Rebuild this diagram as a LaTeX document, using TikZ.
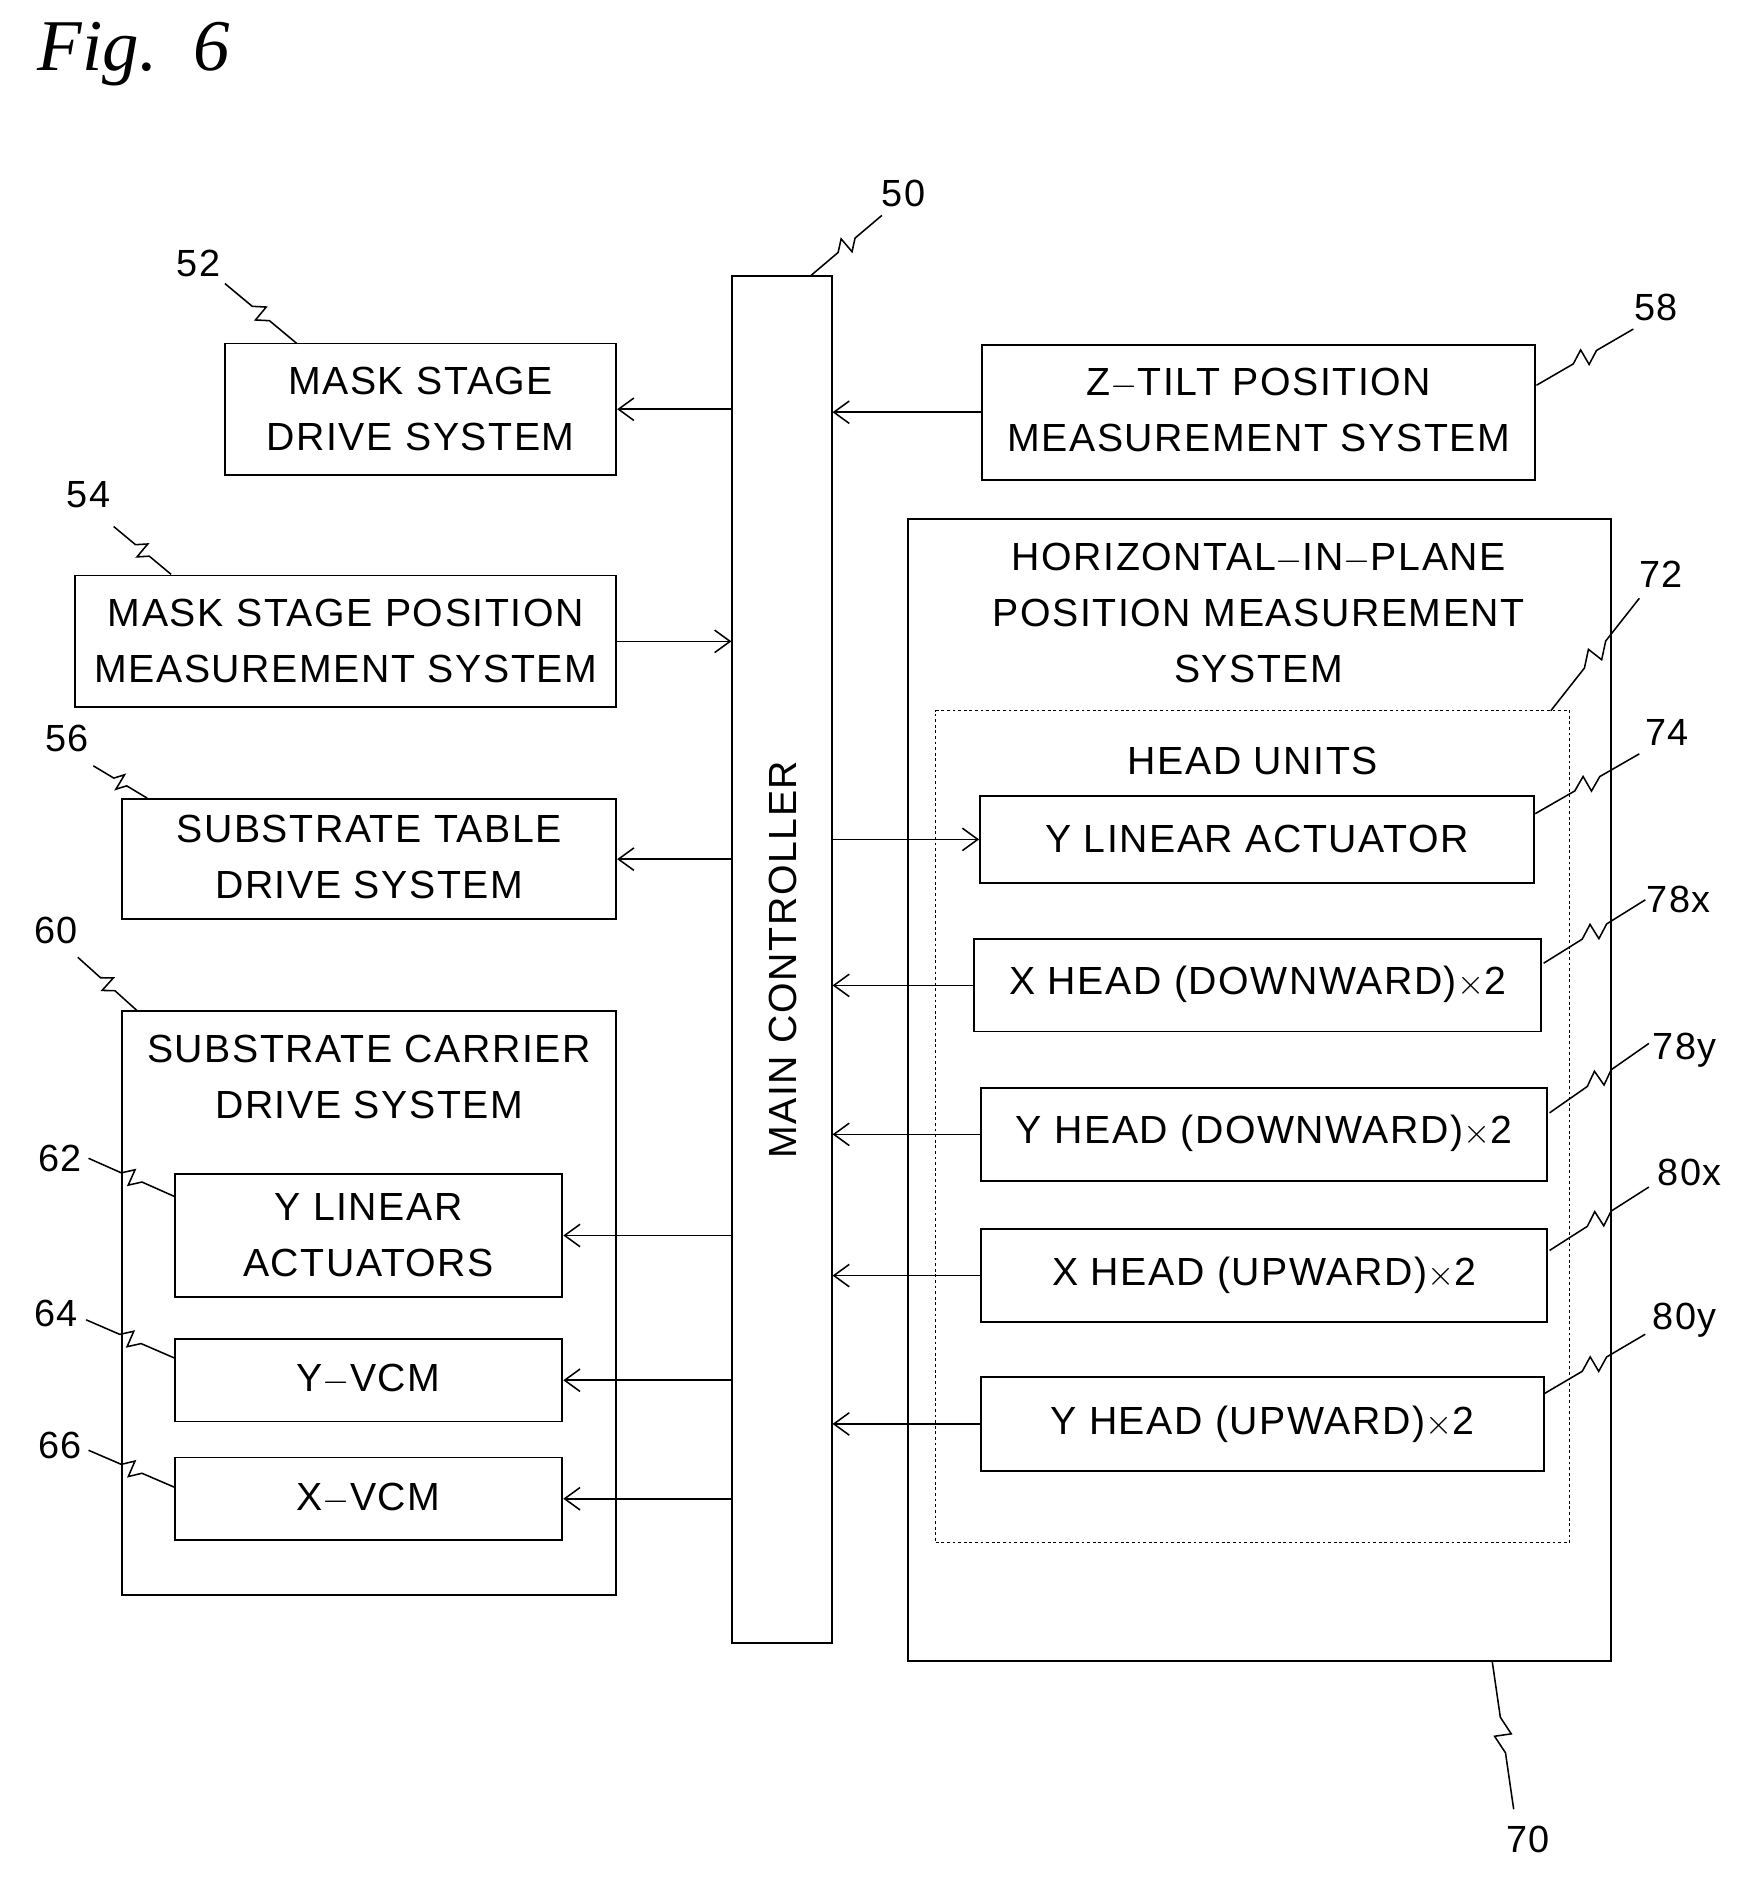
\documentclass[tikz,border=0pt]{standalone}
\usepackage{fontspec}
\setmainfont[LetterSpace=4]{Liberation Sans}
\newfontfamily\figfont{Liberation Serif}
\usetikzlibrary{arrows.meta,calc}
\begin{document}
\begin{tikzpicture}[x=0.03cm,y=-0.03cm,
 box/.style={draw,line width=1.3pt},
 txt/.style={font=\fontsize{28}{40}\selectfont,align=center},
 lab/.style={font=\fontsize{27}{32}\selectfont},
 arr/.style={line width=1.1pt,-{Straight Barb[length=11pt,width=16pt,line width=1.1pt]}},
 lead/.style={line width=1.1pt}]
\useasboundingbox (0,0) rectangle (1466,1577);
\newcommand\sq[2]{\path coordinate (sqa) at #1 coordinate (sqb) at #2;
 \draw[lead] (sqa) -- ($(sqa)!0.38!(sqb)$) -- ($($(sqa)!0.5!(sqb)$)!6pt!90:(sqb)$) -- ($($(sqa)!0.5!(sqb)$)!6pt!-90:(sqb)$) -- ($(sqa)!0.62!(sqb)$) -- (sqb);}
\node[font=\fontsize{52}{52}\selectfont\figfont\itshape] (fig) at (112,45) {Fig.\ \ 6};
% main controller
\node[box,minimum width=83*0.03cm,minimum height=1142*0.03cm] (mc) at (653.5,802) {};
\node[txt,rotate=90] (mct) at (654,802) {MAIN CONTROLLER};
% left boxes
\node[box,minimum width=327*0.03cm,minimum height=110*0.03cm] (b52) at (351.5,342) {};
\node[txt] (t52) at (351.5,342) {MASK STAGE\\DRIVE SYSTEM};
\node[box,minimum width=452*0.03cm,minimum height=110*0.03cm] (b54) at (289,536) {};
\node[txt] (t54) at (289,536) {MASK STAGE POSITION\\MEASUREMENT SYSTEM};
\node[box,minimum width=413*0.03cm,minimum height=100*0.03cm] (b56) at (308.5,718) {};
\node[txt] (t56) at (308.5,716) {SUBSTRATE TABLE\\DRIVE SYSTEM};
\node[box,minimum width=413*0.03cm,minimum height=488*0.03cm] (b60) at (308.5,1089) {};
\node[txt] (t60) at (308.5,900) {SUBSTRATE CARRIER\\DRIVE SYSTEM};
\node[box,minimum width=324*0.03cm,minimum height=103*0.03cm] (b62) at (308,1032.5) {};
\node[txt] (t62) at (308,1032) {Y LINEAR\\ACTUATORS};
\node[box,minimum width=324*0.03cm,minimum height=69*0.03cm] (b64) at (308,1153.5) {};
\node[txt] (t64) at (308,1153) {Y$-$VCM};
\node[box,minimum width=324*0.03cm,minimum height=69*0.03cm] (b66) at (308,1252.5) {};
\node[txt] (t66) at (308,1252) {X$-$VCM};
% right
\node[box,minimum width=462*0.03cm,minimum height=113*0.03cm] (b58) at (1052,344.5) {};
\node[txt] (t58) at (1052,343) {Z$-$TILT POSITION\\MEASUREMENT SYSTEM};
\node[box,minimum width=587*0.03cm,minimum height=954*0.03cm] (b70) at (1052.5,911) {};
\node[txt] (t70) at (1052,512) {HORIZONTAL$-$IN$-$PLANE\\POSITION MEASUREMENT\\SYSTEM};
\node[draw,line width=0.8pt,dash pattern=on 2pt off 2pt,minimum width=530*0.03cm,minimum height=695*0.03cm] (b72) at (1047,941.5) {};
\node[txt] (t72) at (1047,636) {HEAD UNITS};
\node[box,minimum width=463*0.03cm,minimum height=73*0.03cm] (b74) at (1050.5,701.5) {};
\node[txt] (t74) at (1050.5,701) {Y LINEAR ACTUATOR};
\node[box,minimum width=474*0.03cm,minimum height=77*0.03cm] (b78x) at (1051,823.5) {};
\node[txt] (t78x) at (1051,823) {X HEAD (DOWNWARD)$\times$2};
\node[box,minimum width=473*0.03cm,minimum height=78*0.03cm] (b78y) at (1056.5,948) {};
\node[txt] (t78y) at (1056.5,947) {Y HEAD (DOWNWARD)$\times$2};
\node[box,minimum width=473*0.03cm,minimum height=78*0.03cm] (b80x) at (1056.5,1066) {};
\node[txt] (t80x) at (1056.5,1066) {X HEAD (UPWARD)$\times$2};
\node[box,minimum width=470*0.03cm,minimum height=78*0.03cm] (b80y) at (1055,1190) {};
\node[txt] (t80y) at (1055,1190) {Y HEAD (UPWARD)$\times$2};
% arrows
\draw[arr] (mc.west|-b52) -- (b52.east);
\draw[arr] (b54.east) -- (mc.west|-b54);
\draw[arr] (mc.west|-b56) -- (b56.east);
\draw[arr] (mc.west|-b62) -- (b62.east);
\draw[arr] (mc.west|-b64) -- (b64.east);
\draw[arr] (mc.west|-b66) -- (b66.east);
\draw[arr] (b58.west) -- (mc.east|-b58);
\draw[arr] (mc.east|-b74) -- (b74.west);
\draw[arr] (b78x.west) -- (mc.east|-b78x);
\draw[arr] (b78y.west) -- (mc.east|-b78y);
\draw[arr] (b80x.west) -- (mc.east|-b80x);
\draw[arr] (b80y.west) -- (mc.east|-b80y);
% labels
\node[lab] (l50) at (755,162) {50}; \sq{(678,230)}{(737,180)}
\node[lab] (l52) at (166,220) {52}; \sq{(188,237)}{(248,287)}
\node[lab] (l54) at (74,413) {54}; \sq{(95,440)}{(143,480)}
\node[lab] (l56) at (56,617) {56}; \sq{(78,640)}{(123,667)}
\node[lab] (l60) at (47,778) {60}; \sq{(65,800)}{(115,845)}
\node[lab] (l62) at (50,968) {62}; \sq{(74,968)}{(146,1000)}
\node[lab] (l64) at (47,1098) {64}; \sq{(72,1103)}{(146,1135)}
\node[lab] (l66) at (50,1208) {66}; \sq{(74,1212)}{(146,1243)}
\node[lab] (l58) at (1384,257) {58}; \sq{(1284,322)}{(1365,275)}
\node[lab] (l72) at (1388,480) {72}; \sq{(1296,594)}{(1370,500)}
\node[lab] (l74) at (1393,612) {74}; \sq{(1283,680)}{(1370,630)}
\node[lab] (l78x) at (1403,752) {78x}; \sq{(1290,805)}{(1375,752)}
\node[lab] (l78y) at (1408,878) {78y}; \sq{(1295,930)}{(1378,872)}
\node[lab] (l80x) at (1412,980) {80x}; \sq{(1295,1045)}{(1378,992)}
\node[lab] (l80y) at (1408,1103) {80y}; \sq{(1290,1165)}{(1375,1115)}
\node[lab] (l70) at (1277,1537) {70}; \sq{(1247,1388)}{(1265,1512)}
\end{tikzpicture}
\end{document}
